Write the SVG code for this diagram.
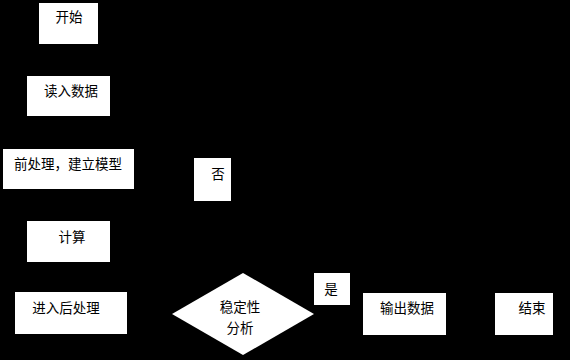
<svg xmlns="http://www.w3.org/2000/svg" width="570" height="360" viewBox="0 0 570 360">
<defs>
<style>
.box{fill:#fff;stroke:none}
.t{font-family:"Noto Sans CJK SC","Liberation Sans",sans-serif;font-size:13.5px;fill:#000;text-anchor:middle}
.c{fill:none;stroke:#000;stroke-width:1}
</style>
<marker id="ah" viewBox="0 0 10 10" refX="10" refY="5" markerWidth="6" markerHeight="6" orient="auto"><path d="M0,0L10,5L0,10z" fill="#000"/></marker>
</defs>
<rect width="570" height="360" fill="#000"/>
<g id="connectors">
<path class="c" d="M69,44V76" marker-end="url(#ah)"/>
<path class="c" d="M69,116V149" marker-end="url(#ah)"/>
<path class="c" d="M69,189V221" marker-end="url(#ah)"/>
<path class="c" d="M69,262V292" marker-end="url(#ah)"/>
<path class="c" d="M127,314H172" marker-end="url(#ah)"/>
<path class="c" d="M314,314H363" marker-end="url(#ah)"/>
<path class="c" d="M446,314H495" marker-end="url(#ah)"/>
<path class="c" d="M243,273V169H134" marker-end="url(#ah)"/>
</g>
<g id="start"><rect class="box" x="39" y="3" width="59" height="41"/><text class="t" x="69" y="22">开始</text></g>
<g id="read"><rect class="box" x="27" y="76" width="83" height="40"/><text class="t" x="71" y="96">读入数据</text></g>
<g id="pre"><rect class="box" x="3" y="149" width="131" height="40"/><text class="t" x="68" y="169">前处理，建立模型</text></g>
<g id="no"><rect class="box" x="194" y="158" width="37" height="43"/><text class="t" x="218" y="179">否</text></g>
<g id="calc"><rect class="box" x="27" y="221" width="83" height="41"/><text class="t" x="72" y="242">计算</text></g>
<g id="post"><rect class="box" x="15" y="292" width="112" height="42"/><text class="t" x="66" y="313">进入后处理</text></g>
<g id="decision"><polygon class="box" points="243,273 314,314 243,355 172,314"/><text class="t" x="240" y="312">稳定性</text><text class="t" x="240" y="333">分析</text></g>
<g id="yes"><rect class="box" x="314" y="273" width="36" height="32"/><text class="t" x="331" y="294">是</text></g>
<g id="output"><rect class="box" x="363" y="293" width="83" height="42"/><text class="t" x="407" y="313">输出数据</text></g>
<g id="end"><rect class="box" x="495" y="293" width="58" height="42"/><text class="t" x="532" y="313">结束</text></g>
</svg>
